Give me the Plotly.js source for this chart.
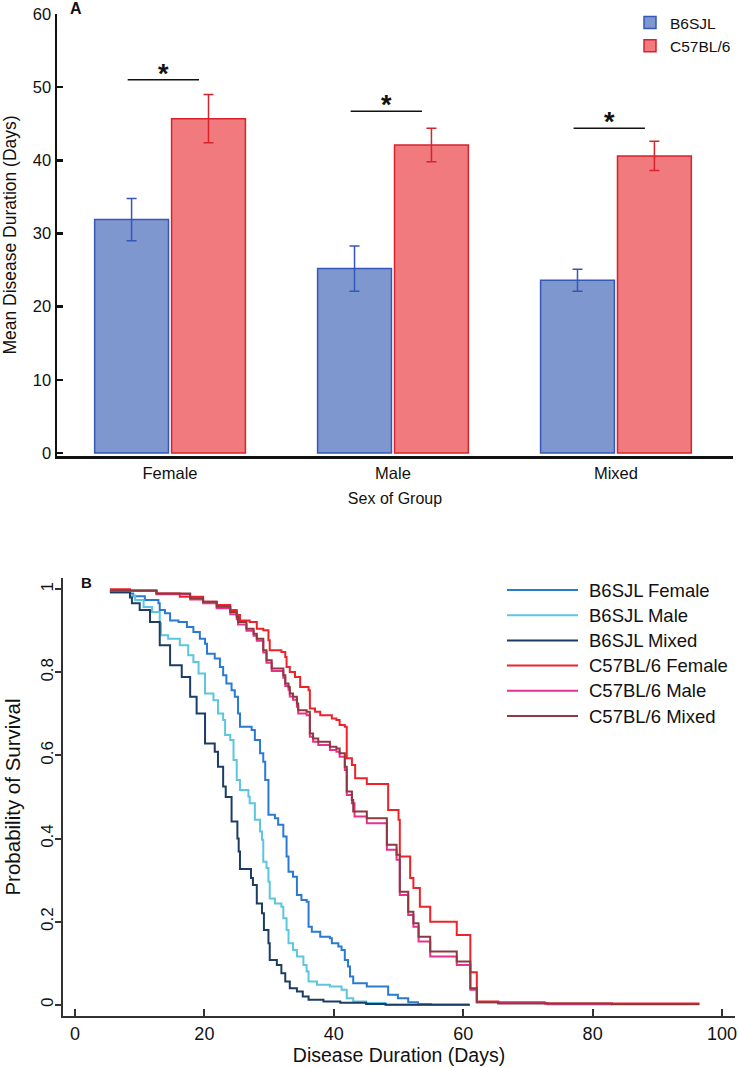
<!DOCTYPE html>
<html>
<head>
<meta charset="utf-8">
<script src="https://cdn.plot.ly/plotly-3.0.1.min.js"></script>
<style>html,body{margin:0;padding:0;background:#fff;}#chart{width:738px;height:1068px;}</style>
</head>
<body>
<div id="chart"></div>
<script>
// ---------- Panel A data ----------
const categories = ['Female', 'Male', 'Mixed'];
const b6sjlMean = [31.9, 25.2, 23.6];
const b6sjlErr = [2.9, 3.1, 1.5];
const c57Mean = [45.7, 42.1, 40.6];
const c57Err = [3.3, 2.3, 2.0];
const sigY = [51.0, 46.7, 44.4];
const sigText = ['*', '*', '*'];

// ---------- Panel B data (Kaplan-Meier steps: time in days, survival) ----------
const seriesNames = ['B6SJL Female', 'B6SJL Male', 'B6SJL Mixed', 'C57BL/6 Female', 'C57BL/6 Male', 'C57BL/6 Mixed'];
const seriesColors = ['#2a7ad2', '#5cc6df', '#1c3c66', '#ee2228', '#e8318c', '#8b3a40'];

const b6FemaleT = [5.4, 8.5, 9.0, 10.8, 12.9, 13.1, 13.9, 14.7, 16.0, 17.3, 18.3, 19.3, 20.1, 20.4, 21.6, 22.4, 22.9, 23.4, 24.2, 24.7, 25.2, 25.5, 27.3, 27.8, 28.6, 29.1, 29.4, 29.9, 30.9, 31.4, 32.2, 32.7, 33.0, 33.7, 34.3, 35.0, 35.8, 36.1, 36.6, 37.9, 39.4, 39.7, 40.7, 41.2, 41.7, 42.2, 42.5, 43.0, 45.1, 48.4, 49.9, 51.5, 53.0, 55.0, 61.0];
const b6FemaleS = [0.993, 0.99, 0.983, 0.974, 0.966, 0.95, 0.942, 0.925, 0.921, 0.909, 0.897, 0.881, 0.869, 0.845, 0.833, 0.813, 0.793, 0.773, 0.757, 0.741, 0.701, 0.669, 0.661, 0.637, 0.605, 0.585, 0.541, 0.457, 0.449, 0.433, 0.405, 0.357, 0.32, 0.308, 0.264, 0.252, 0.248, 0.188, 0.176, 0.164, 0.16, 0.148, 0.14, 0.132, 0.108, 0.092, 0.068, 0.052, 0.044, 0.024, 0.016, 0.006, 0.002, 0.0, 0.0];

const b6MaleT = [5.4, 8.5, 9.3, 10.6, 11.9, 13.1, 13.3, 14.4, 16.2, 17.5, 18.3, 19.1, 20.1, 21.4, 22.1, 22.9, 23.2, 24.0, 24.5, 25.0, 25.5, 26.8, 27.0, 27.8, 28.6, 28.9, 29.1, 29.6, 29.9, 30.1, 30.9, 31.9, 32.2, 32.7, 33.0, 33.7, 34.3, 35.3, 35.8, 36.1, 37.4, 39.4, 41.2, 42.0, 43.0, 45.0, 48.0, 61.0];
const b6MaleS = [0.993, 0.985, 0.974, 0.957, 0.945, 0.918, 0.889, 0.881, 0.865, 0.841, 0.825, 0.797, 0.749, 0.733, 0.701, 0.685, 0.649, 0.637, 0.589, 0.541, 0.517, 0.501, 0.485, 0.445, 0.417, 0.397, 0.344, 0.329, 0.296, 0.256, 0.244, 0.236, 0.208, 0.18, 0.148, 0.132, 0.116, 0.096, 0.08, 0.056, 0.048, 0.044, 0.036, 0.016, 0.008, 0.004, 0.0, 0.0];

const b6MixedT = [5.4, 8.5, 8.8, 10.0, 11.6, 13.1, 14.7, 16.5, 17.8, 18.8, 20.1, 21.6, 22.1, 22.9, 23.3, 24.2, 25.1, 25.3, 25.5, 27.2, 27.5, 28.1, 28.9, 29.2, 29.9, 30.1, 31.2, 31.9, 32.5, 33.2, 34.3, 35.2, 36.1, 38.4, 41.0, 45.0, 48.0, 61.0];
const b6MixedS = [0.993, 0.98, 0.966, 0.95, 0.921, 0.865, 0.817, 0.789, 0.741, 0.701, 0.629, 0.609, 0.573, 0.525, 0.5, 0.441, 0.4, 0.369, 0.327, 0.305, 0.288, 0.244, 0.22, 0.18, 0.148, 0.108, 0.096, 0.076, 0.056, 0.04, 0.032, 0.02, 0.012, 0.008, 0.005, 0.002, 0.0, 0.0];

const c57FemaleT = [5.4, 8.5, 12.6, 16.2, 19.8, 21.9, 24.0, 25.0, 25.5, 27.0, 28.1, 29.1, 29.9, 30.1, 31.9, 32.5, 32.7, 33.2, 34.0, 34.8, 36.1, 36.3, 37.1, 37.9, 39.7, 40.4, 40.9, 41.7, 42.0, 42.8, 43.3, 45.1, 48.4, 50.0, 50.2, 51.8, 52.3, 53.3, 54.9, 59.0, 61.1, 62.1, 65.4, 72.6, 96.5];
const c57FemaleS = [1.0, 0.997, 0.99, 0.982, 0.97, 0.962, 0.95, 0.938, 0.925, 0.921, 0.905, 0.901, 0.877, 0.853, 0.849, 0.837, 0.813, 0.801, 0.789, 0.765, 0.757, 0.713, 0.705, 0.697, 0.689, 0.685, 0.673, 0.669, 0.593, 0.577, 0.545, 0.531, 0.469, 0.445, 0.357, 0.305, 0.281, 0.236, 0.2, 0.168, 0.078, 0.008, 0.006, 0.003, 0.003];

const c57MaleT = [5.4, 12.6, 17.8, 19.8, 21.9, 24.0, 25.0, 25.2, 26.5, 27.6, 28.1, 29.1, 29.6, 30.4, 32.2, 32.5, 33.0, 33.2, 33.7, 34.3, 34.5, 35.8, 36.3, 36.8, 37.6, 39.4, 40.4, 40.9, 41.7, 42.0, 42.8, 43.2, 45.1, 48.2, 49.7, 50.2, 51.5, 52.3, 53.1, 54.9, 59.0, 61.1, 62.1, 65.4, 73.0, 83.0];
const c57MaleS = [0.996, 0.988, 0.975, 0.966, 0.954, 0.94, 0.928, 0.915, 0.9, 0.888, 0.876, 0.848, 0.823, 0.803, 0.787, 0.767, 0.758, 0.742, 0.734, 0.717, 0.701, 0.697, 0.645, 0.633, 0.625, 0.613, 0.609, 0.597, 0.565, 0.505, 0.485, 0.453, 0.437, 0.373, 0.349, 0.264, 0.216, 0.188, 0.152, 0.116, 0.096, 0.036, 0.006, 0.004, 0.001, 0.001];

const c57MixedT = [5.4, 12.6, 17.8, 19.8, 21.9, 24.0, 25.0, 25.2, 26.5, 27.6, 28.1, 29.1, 29.6, 30.4, 32.2, 32.5, 33.0, 33.2, 33.7, 34.3, 34.5, 35.8, 36.3, 36.8, 37.6, 39.4, 40.4, 40.9, 41.7, 42.0, 42.8, 43.0, 45.1, 48.2, 49.7, 50.2, 51.5, 52.3, 53.1, 54.9, 59.0, 61.1, 62.1, 65.4, 83.0, 96.5];
const c57MixedS = [0.997, 0.99, 0.978, 0.97, 0.958, 0.945, 0.933, 0.921, 0.905, 0.893, 0.881, 0.853, 0.829, 0.809, 0.793, 0.773, 0.765, 0.749, 0.741, 0.725, 0.709, 0.705, 0.653, 0.641, 0.633, 0.621, 0.617, 0.605, 0.573, 0.513, 0.493, 0.465, 0.449, 0.385, 0.361, 0.272, 0.224, 0.196, 0.164, 0.128, 0.104, 0.04, 0.006, 0.003, 0.001, 0.001];

const seriesT = [b6FemaleT, b6MaleT, b6MixedT, c57FemaleT, c57MaleT, c57MixedT];
const seriesS = [b6FemaleS, b6MaleS, b6MixedS, c57FemaleS, c57MaleS, c57MixedS];

// ---------- build ----------
const FONT = 'Liberation Sans, Arial, Helvetica, sans-serif';
const xIdx = categories.map((c, i) => i);

const traces = [
  {
    type: 'bar', name: 'B6SJL', x: xIdx, y: b6sjlMean, xaxis: 'x', yaxis: 'y',
    marker: {color: '#7f97cf', line: {color: '#3457b8', width: 1.5}},
    error_y: {type: 'data', array: b6sjlErr, visible: true, color: '#3457b8', thickness: 1.5, width: 5},
    legend: 'legend'
  },
  {
    type: 'bar', name: 'C57BL/6', x: xIdx, y: c57Mean, xaxis: 'x', yaxis: 'y',
    marker: {color: '#f07a7e', line: {color: '#d8232b', width: 1.5}},
    error_y: {type: 'data', array: c57Err, visible: true, color: '#d8232b', thickness: 1.5, width: 5},
    legend: 'legend'
  }
];

seriesNames.forEach((n, i) => {
  traces.push({
    type: 'scatter', mode: 'lines', name: n, x: seriesT[i], y: seriesS[i],
    xaxis: 'x2', yaxis: 'y2', line: {color: seriesColors[i], width: 2, shape: 'hv'},
    showlegend: false
  });
});

const W = 738, H = 1068;
const px = v => v / W;
const py = v => 1 - v / H;

const shapes = [];
const annotations = [];

// significance brackets
sigY.forEach((y, i) => {
  shapes.push({type: 'line', xref: 'x', yref: 'y', x0: i - 0.19, x1: i + 0.13, y0: y, y1: y,
    line: {color: '#111', width: 1.5}});
  annotations.push({xref: 'x', yref: 'y', x: i - 0.03, y: y, yanchor: 'bottom', yshift: -11,
    text: '<b>' + sigText[i] + '</b>', showarrow: false, font: {size: 27, color: '#111', family: FONT}});
});

// panel letters
annotations.push({xref: 'paper', yref: 'paper', x: px(76), y: py(8), text: '<b>A</b>', showarrow: false,
  font: {size: 16, color: '#111', family: FONT}, xanchor: 'center', yanchor: 'middle'});
annotations.push({xref: 'paper', yref: 'paper', x: px(86), y: py(582), text: '<b>B</b>', showarrow: false,
  font: {size: 15, color: '#111', family: FONT}, xanchor: 'center', yanchor: 'middle'});

// custom legend for panel B
seriesNames.forEach((n, i) => {
  const yy = 590 + i * 25.2;
  shapes.push({type: 'line', xref: 'paper', yref: 'paper', x0: px(507), x1: px(578), y0: py(yy), y1: py(yy),
    line: {color: seriesColors[i], width: 2}});
  annotations.push({xref: 'paper', yref: 'paper', x: px(587), y: py(yy), xanchor: 'left', yanchor: 'middle',
    text: n, showarrow: false, font: {size: 18.5, color: '#111', family: FONT}});
});

const layout = {
  width: W, height: H,
  margin: {l: 0, r: 0, t: 0, b: 0},
  paper_bgcolor: '#fff', plot_bgcolor: 'rgba(0,0,0,0)',
  font: {family: FONT, color: '#111'},
  barmode: 'group', bargap: 0.31, bargroupgap: 0.04,
  showlegend: true,
  legend: {x: px(630), y: py(6), xanchor: 'left', yanchor: 'top', font: {size: 15.5, color: '#111', family: FONT},
    bgcolor: 'rgba(0,0,0,0)', tracegroupgap: 0, itemclick: false},
  xaxis: {
    domain: [px(57), px(733)], anchor: 'y', range: [-0.507, 2.525],
    tickmode: 'array', tickvals: xIdx, ticktext: categories, ticks: '',
    showline: true, linecolor: '#111', linewidth: 3, showgrid: false, zeroline: false,
    tickfont: {size: 16.5, family: FONT, color: '#111'},
    title: {text: 'Sex of Group', font: {size: 16, family: FONT, color: '#111'}, standoff: 13}
  },
  yaxis: {
    domain: [py(456), py(14)], anchor: 'x', range: [-0.41, 60],
    tickvals: [0, 10, 20, 30, 40, 50, 60], ticks: 'inside', ticklen: 6, tickwidth: 2.5, tickcolor: '#111',
    showline: true, linecolor: '#111', linewidth: 2.5, showgrid: false, zeroline: false,
    tickfont: {size: 16.5, family: FONT, color: '#111'},
    title: {text: 'Mean Disease Duration (Days)', font: {size: 17.5, family: FONT, color: '#111'}, standoff: 12}
  },
  xaxis2: {
    domain: [px(63), px(735)], anchor: 'y2', range: [-1.85, 102.0],
    tickvals: [0, 20, 40, 60, 80, 100], ticks: 'inside', ticklen: 7, tickwidth: 2, tickcolor: '#333',
    showline: true, linecolor: '#333', linewidth: 2, showgrid: false, zeroline: false,
    tickfont: {size: 18, family: FONT, color: '#111'},
    title: {text: 'Disease Duration (Days)', font: {size: 19.5, family: FONT, color: '#111'}, standoff: 5}
  },
  yaxis2: {
    domain: [py(1016), py(578)], anchor: 'x2', range: [-0.027, 1.027],
    tickvals: [0, 0.2, 0.4, 0.6, 0.8, 1], ticktext: ['0', '0.2', '0.4', '0.6', '0.8', '1'],
    ticks: 'outside', ticklen: 6, tickwidth: 2, tickcolor: '#333', tickangle: -90, ticklabelstandoff: -5,
    showline: true, linecolor: '#333', linewidth: 2, showgrid: false, zeroline: false,
    tickfont: {size: 17, family: FONT, color: '#111'},
    title: {text: 'Probability of Survival', font: {size: 20.5, family: FONT, color: '#111'}, standoff: 12}
  },
  shapes: shapes,
  annotations: annotations
};

Plotly.newPlot('chart', traces, layout, {displayModeBar: false, staticPlot: true});
</script>
</body>
</html>
